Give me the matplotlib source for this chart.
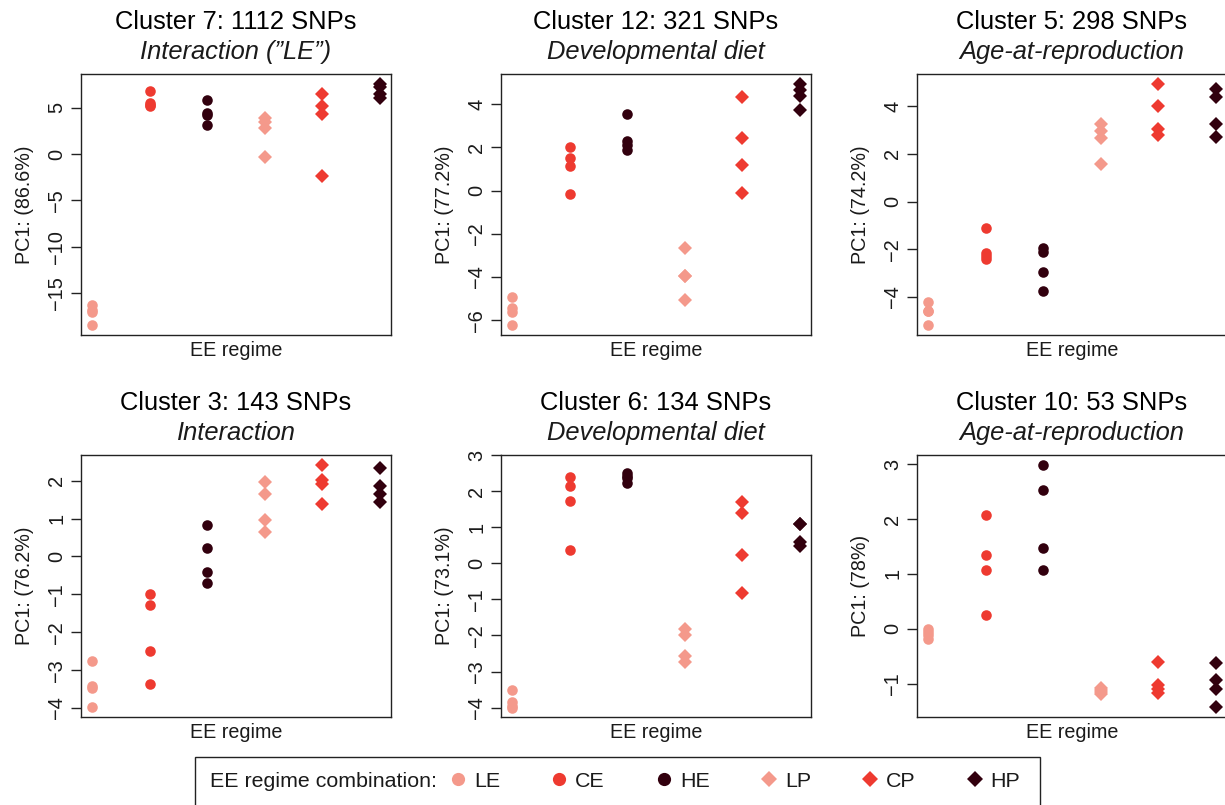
import matplotlib
matplotlib.use("Agg")
import matplotlib.pyplot as plt
from matplotlib.lines import Line2D
from matplotlib.patches import Rectangle

plt.rcParams['font.family'] = ['Liberation Sans', 'DejaVu Sans']

# ---------------- data ----------------
groups = ["LE", "CE", "HE", "LP", "CP", "HP"]
group_colors = ["#F4998B", "#EE3A30", "#32000E", "#F4998B", "#EE3A30", "#32000E"]
group_markers = ["o", "o", "o", "D", "D", "D"]

titles = ["Cluster 7: 1112 SNPs", "Cluster 12: 321 SNPs", "Cluster 5: 298 SNPs",
          "Cluster 3: 143 SNPs", "Cluster 6: 134 SNPs", "Cluster 10: 53 SNPs"]
subtitles = ['Interaction (\u201dLE\u201d)', "Developmental diet", "Age-at-reproduction",
             "Interaction", "Developmental diet", "Age-at-reproduction"]
ylabels = ["PC1: (86.6%)", "PC1: (77.2%)", "PC1: (74.2%)",
           "PC1: (76.2%)", "PC1: (73.1%)", "PC1: (78%)"]
yticks = [[-15, -10, -5, 0, 5], [-6, -4, -2, 0, 2, 4], [-4, -2, 0, 2, 4],
          [-4, -3, -2, -1, 0, 1, 2], [-4, -3, -2, -1, 0, 1, 2, 3], [-1, 0, 1, 2, 3]]
legend_title = "EE regime combination:"

# PC1 values per regime (LE, CE, HE, LP, CP, HP), 4 replicates each
cluster7 = [[-16.3, -16.8, -17.1, -18.5], [6.8, 5.5, 5.3, 5.2], [5.8, 4.4, 4.2, 3.1],
            [3.9, 3.5, 2.8, -0.3], [6.5, 5.2, 4.3, -2.4], [7.6, 7.2, 6.5, 6.1]]
cluster12 = [[-4.93, -5.44, -5.6, -6.24], [2.0, 1.49, 1.12, -0.18], [3.53, 2.3, 2.12, 1.88],
             [-2.67, -3.97, -3.97, -5.08], [4.35, 2.45, 1.17, -0.13], [4.95, 4.65, 4.4, 3.75]]
cluster5 = [[-4.2, -4.6, -4.6, -5.2], [-1.13, -2.17, -2.3, -2.43], [-1.95, -2.1, -2.97, -3.75],
            [3.27, 2.98, 2.65, 1.57], [4.95, 4.0, 3.06, 2.78], [4.73, 4.37, 3.27, 2.73]]
cluster3 = [[-2.77, -3.42, -3.46, -3.98], [-1.0, -1.29, -2.49, -3.37], [0.84, 0.23, -0.42, -0.69],
            [1.96, 1.65, 0.97, 0.65], [2.42, 2.02, 1.9, 1.38], [2.33, 1.86, 1.65, 1.44]]
cluster6 = [[-3.5, -3.85, -3.95, -4.0], [2.39, 2.15, 1.73, 0.37], [2.5, 2.42, 2.35, 2.23],
            [-1.82, -1.98, -2.57, -2.73], [1.7, 1.39, 0.23, -0.83], [1.1, 1.08, 0.6, 0.48]]
cluster10 = [[0.0, -0.05, -0.12, -0.18], [2.07, 1.34, 1.08, 0.25], [2.99, 2.52, 1.48, 1.08],
             [-1.08, -1.12, -1.16, -1.18], [-0.61, -1.02, -1.1, -1.17], [-0.62, -0.93, -1.1, -1.43]]
panels = [cluster7, cluster12, cluster5, cluster3, cluster6, cluster10]

# ---------------- layout ----------------
W, H = 1225, 805
fig = plt.figure(figsize=(W / 100, H / 100), dpi=100)
col_x = [(81, 391), (501, 811), (917, 1227)]
row_y = [(74, 335), (455, 717)]
txt = "#1a1a1a"

for i, vals in enumerate(panels):
    r, c = divmod(i, 3)
    x0, x1 = col_x[c]
    y0, y1 = row_y[r]
    ax = fig.add_axes([x0 / W, 1 - y1 / H, (x1 - x0) / W, (y1 - y0) / H])
    for g, (name, col, mk) in enumerate(zip(groups, group_colors, group_markers)):
        ax.plot([g + 1] * len(vals[g]), vals[g], linestyle="none", marker=mk,
                color=col, markersize=7.6 if mk == "o" else 7.0, markeredgewidth=0)
    ax.margins(x=0.04, y=0.04)
    ax.set_xticks([])
    ax.set_yticks(yticks[i])
    ax.set_yticklabels([str(t) if t >= 0 else "\u2212" + str(-t) for t in yticks[i]],
                       rotation=90, va="center", fontsize=14.4, color=txt)
    ax.tick_params(axis="y", length=7, width=1, pad=3.5, colors="#222222", labelcolor=txt)
    for s in ax.spines.values():
        s.set_linewidth(1.0)
        s.set_color("#222222")
    cx = (x0 + x1) / 2
    fig.text(cx / W, 1 - (y0 - 45) / H, titles[i], ha="center", va="baseline",
             fontsize=18.4, color="black")
    fig.text(cx / W, 1 - (y0 - 15) / H, subtitles[i], ha="center", va="baseline",
             fontsize=18.4, style="italic", color="#1a1a1a")
    fig.text((x0 - 57) / W, 1 - ((y0 + y1) / 2) / H, ylabels[i], rotation=90,
             ha="center", va="center", fontsize=14.2, color=txt)
    fig.text(cx / W, 1 - (y1 + 21) / H, "EE regime", ha="center", va="baseline",
             fontsize=14.2, color=txt)

# ---------------- legend ----------------
box_x0, box_x1, box_y0, box_y1 = 195, 1040, 757, 812
fig.patches.append(Rectangle((box_x0 / W, 1 - box_y1 / H), (box_x1 - box_x0) / W,
                             (box_y1 - box_y0) / H, transform=fig.transFigure,
                             fill=False, edgecolor="#222222", linewidth=1.0))
fig.text(210 / W, 1 - 781 / H, legend_title, ha="left", va="center",
         fontsize=15.4, color=txt)
handles = []
for name, col, mk in zip(groups, group_colors, group_markers):
    handles.append(Line2D([], [], linestyle="none", marker=mk, color=col,
                          markersize=9.5 if mk == "o" else 8.5, markeredgewidth=0))
leg = fig.legend(handles, groups, ncol=6, loc="center left",
                 bbox_to_anchor=(449.5 / W, 1 - 781 / H), frameon=False,
                 fontsize=15.4, handlelength=0.8, handletextpad=0.35, columnspacing=2.36,
                 borderpad=0, borderaxespad=0)
for t in leg.get_texts():
    t.set_color(txt)

fig.savefig("out.png", dpi=100)
